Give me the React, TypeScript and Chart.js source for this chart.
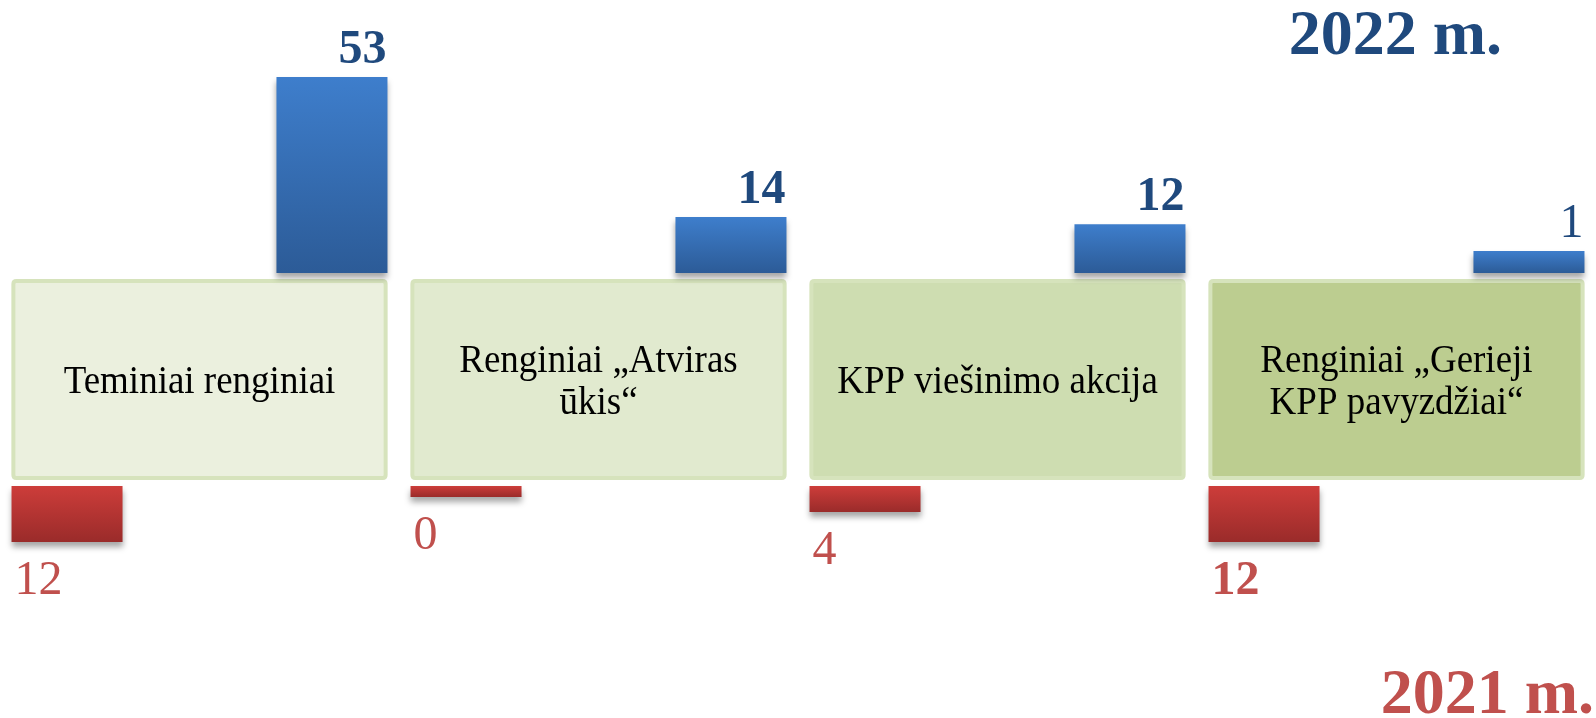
import React, { useEffect, useRef } from "react";
import { Chart, registerables } from "chart.js";

Chart.register(...registerables);

// ---- data ----
const CATEGORIES: string[][] = [
  ["Teminiai renginiai"],
  ["Renginiai „Atviras", "ūkis“"],
  ["KPP viešinimo akcija"],
  ["Renginiai „Gerieji", "KPP pavyzdžiai“"],
];
const VALUES_2021 = [12, 0, 4, 12];
const VALUES_2022 = [53, 14, 12, 1];
const SERIES_2021 = "2021 m.";
const SERIES_2022 = "2022 m.";

// ---- styles ----
const BOLD_2022 = [true, true, true, false];
const BOLD_2021 = [false, false, false, true];
const BOX_FILLS = ["#EBF0DE", "#E1EACF", "#CEDDB1", "#BCCD90"];
const BOX_BORDER = "#D6E3BC";
const BLUE_TEXT = "#1F497D";
const RED_TEXT = "#C0504D";
const SERIF = '"Liberation Serif", "Times New Roman", serif';

// ---- scale layout ----
const H = 718;
const W = 1596;
const BLUE_BASE = -1.59;
const BLUE_BASE_PX = 273;
const BLUE_PX_UNIT = 3.59;
const RED_BASE = -2.93;
const RED_BASE_PX = 486;
const RED_PX_UNIT = 3.75;
const BLUE_MIN = BLUE_BASE - (H - BLUE_BASE_PX) / BLUE_PX_UNIT;
const BLUE_MAX = BLUE_MIN + H / BLUE_PX_UNIT;
const RED_MIN = RED_BASE - RED_BASE_PX / RED_PX_UNIT;
const RED_MAX = RED_MIN + H / RED_PX_UNIT;
const BLUE_MIN_LEN = 22;
const TEXT_STRETCH = 1.08;

function gradientFor(c: any, axis: string, base: number, top: string, bottom: string, fallback: string, minLen = 0) {
  const chart = c.chart;
  const s = chart.scales && chart.scales[axis];
  if (!chart.chartArea || !s || c.raw === undefined) return fallback;
  const y0 = s.getPixelForValue(base);
  let y1 = s.getPixelForValue(c.raw);
  if (Math.abs(y1 - y0) < minLen) y1 = y0 - minLen;
  const g = chart.ctx.createLinearGradient(0, Math.min(y0, y1), 0, Math.max(y0, y1));
  g.addColorStop(0, top);
  g.addColorStop(1, bottom);
  return g;
}

function roundRect(ctx: CanvasRenderingContext2D, x: number, y: number, w: number, h: number, r: number) {
  ctx.beginPath();
  ctx.moveTo(x + r, y);
  ctx.lineTo(x + w - r, y);
  ctx.quadraticCurveTo(x + w, y, x + w, y + r);
  ctx.lineTo(x + w, y + h - r);
  ctx.quadraticCurveTo(x + w, y + h, x + w - r, y + h);
  ctx.lineTo(x + r, y + h);
  ctx.quadraticCurveTo(x, y + h, x, y + h - r);
  ctx.lineTo(x, y + r);
  ctx.quadraticCurveTo(x, y, x + r, y);
  ctx.closePath();
}

const decorPlugin = {
  id: "decor",
  beforeDatasetsDraw(chart: any) {
    const ctx: CanvasRenderingContext2D = chart.ctx;
    const x = chart.scales.x;
    const yB = chart.scales.yBlue;
    const yR = chart.scales.yRed;
    const top = yB.getPixelForValue(BLUE_BASE) + 6;
    const bottom = yR.getPixelForValue(RED_BASE) - 6;
    const half = ((x.getPixelForValue(1) - x.getPixelForValue(0)) * 0.943) / 2;
    CATEGORIES.forEach((lines, i) => {
      const cx = x.getPixelForValue(i);
      ctx.save();
      roundRect(ctx, cx - half + 2, top + 2, half * 2 - 4, bottom - top - 4, 3);
      ctx.fillStyle = BOX_FILLS[i];
      ctx.fill();
      ctx.lineWidth = 4;
      ctx.strokeStyle = BOX_BORDER;
      ctx.stroke();
      ctx.fillStyle = "#000";
      ctx.font = `37px ${SERIF}`;
      ctx.textAlign = "center";
      ctx.textBaseline = "alphabetic";
      const lh = 42;
      const cy = (top + bottom) / 2;
      lines.forEach((l, k) => {
        const mid = cy + (k - (lines.length - 1) / 2) * lh;
        const baseline = mid + 13;
        ctx.save();
        ctx.translate(cx, baseline);
        ctx.scale(1, TEXT_STRETCH);
        ctx.fillText(l, 0, 0);
        ctx.restore();
      });
      ctx.restore();
    });
  },
  beforeDatasetDraw(chart: any) {
    const ctx = chart.ctx;
    ctx.save();
    ctx.shadowColor = "rgba(0,0,0,0.35)";
    ctx.shadowBlur = 6;
    ctx.shadowOffsetY = 5;
  },
  afterDatasetDraw(chart: any) {
    chart.ctx.restore();
  },
  afterDatasetsDraw(chart: any) {
    const ctx: CanvasRenderingContext2D = chart.ctx;
    ctx.save();
    // 2021 labels (dataset 0)
    chart.getDatasetMeta(0).data.forEach((el: any, i: number) => {
      ctx.font = `${BOLD_2021[i] ? "bold " : ""}48px ${SERIF}`;
      ctx.fillStyle = RED_TEXT;
      ctx.textAlign = "left";
      ctx.textBaseline = "alphabetic";
      ctx.fillText(String(VALUES_2021[i]), el.x - el.width / 2 + 3, el.y + 52);
    });
    // 2022 labels (dataset 1)
    chart.getDatasetMeta(1).data.forEach((el: any, i: number) => {
      ctx.font = `${BOLD_2022[i] ? "bold " : ""}48px ${SERIF}`;
      ctx.fillStyle = BLUE_TEXT;
      ctx.textAlign = "right";
      ctx.textBaseline = "alphabetic";
      ctx.fillText(String(VALUES_2022[i]), el.x + el.width / 2 - 1, el.y - 14);
    });
    // series titles
    ctx.font = `bold 64px ${SERIF}`;
    ctx.textAlign = "right";
    ctx.fillStyle = BLUE_TEXT;
    ctx.fillText(SERIES_2022, 1502, 54);
    ctx.fillStyle = RED_TEXT;
    ctx.fillText(SERIES_2021, 1594, 713);
    ctx.restore();
  },
};

export default function App() {
  const ref = useRef<HTMLCanvasElement | null>(null);
  useEffect(() => {
    if (!ref.current) return;
    const chart = new Chart(ref.current, {
      type: "bar",
      data: {
        labels: CATEGORIES.map((l) => l.join(" ")),
        datasets: [
          {
            label: SERIES_2021,
            data: VALUES_2021,
            yAxisID: "yRed",
            base: RED_BASE,
            borderWidth: 0,
            backgroundColor: (c: any) =>
              gradientFor(c, "yRed", RED_BASE, "#CD3D3A", "#9A2B2A", "#C0504D"),
          } as any,
          {
            label: SERIES_2022,
            data: VALUES_2022,
            yAxisID: "yBlue",
            base: BLUE_BASE,
            minBarLength: BLUE_MIN_LEN,
            borderWidth: 0,
            backgroundColor: (c: any) =>
              gradientFor(c, "yBlue", BLUE_BASE, "#3E7ECC", "#2C5B97", "#4F81BD", BLUE_MIN_LEN),
          } as any,
        ],
      },
      options: {
        responsive: false,
        maintainAspectRatio: false,
        animation: false,
        layout: { padding: 0 },
        categoryPercentage: 1.328,
        barPercentage: 0.419,
        plugins: {
          legend: { display: false },
          tooltip: { enabled: false },
        },
        scales: {
          x: { type: "category", offset: true, display: false, grid: { display: false } },
          yBlue: {
            type: "linear",
            position: "left",
            min: BLUE_MIN,
            max: BLUE_MAX,
            display: false,
          },
          yRed: {
            type: "linear",
            position: "right",
            reverse: true,
            min: RED_MIN,
            max: RED_MAX,
            display: false,
          },
        },
      } as any,
      plugins: [decorPlugin],
    });
    return () => chart.destroy();
  }, []);
  return (
    <div style={{ position: "absolute", left: 0, top: 0, width: W, height: H, background: "#fff" }}>
      <canvas ref={ref} width={W} height={H} style={{ display: "block" }} />
    </div>
  );
}
